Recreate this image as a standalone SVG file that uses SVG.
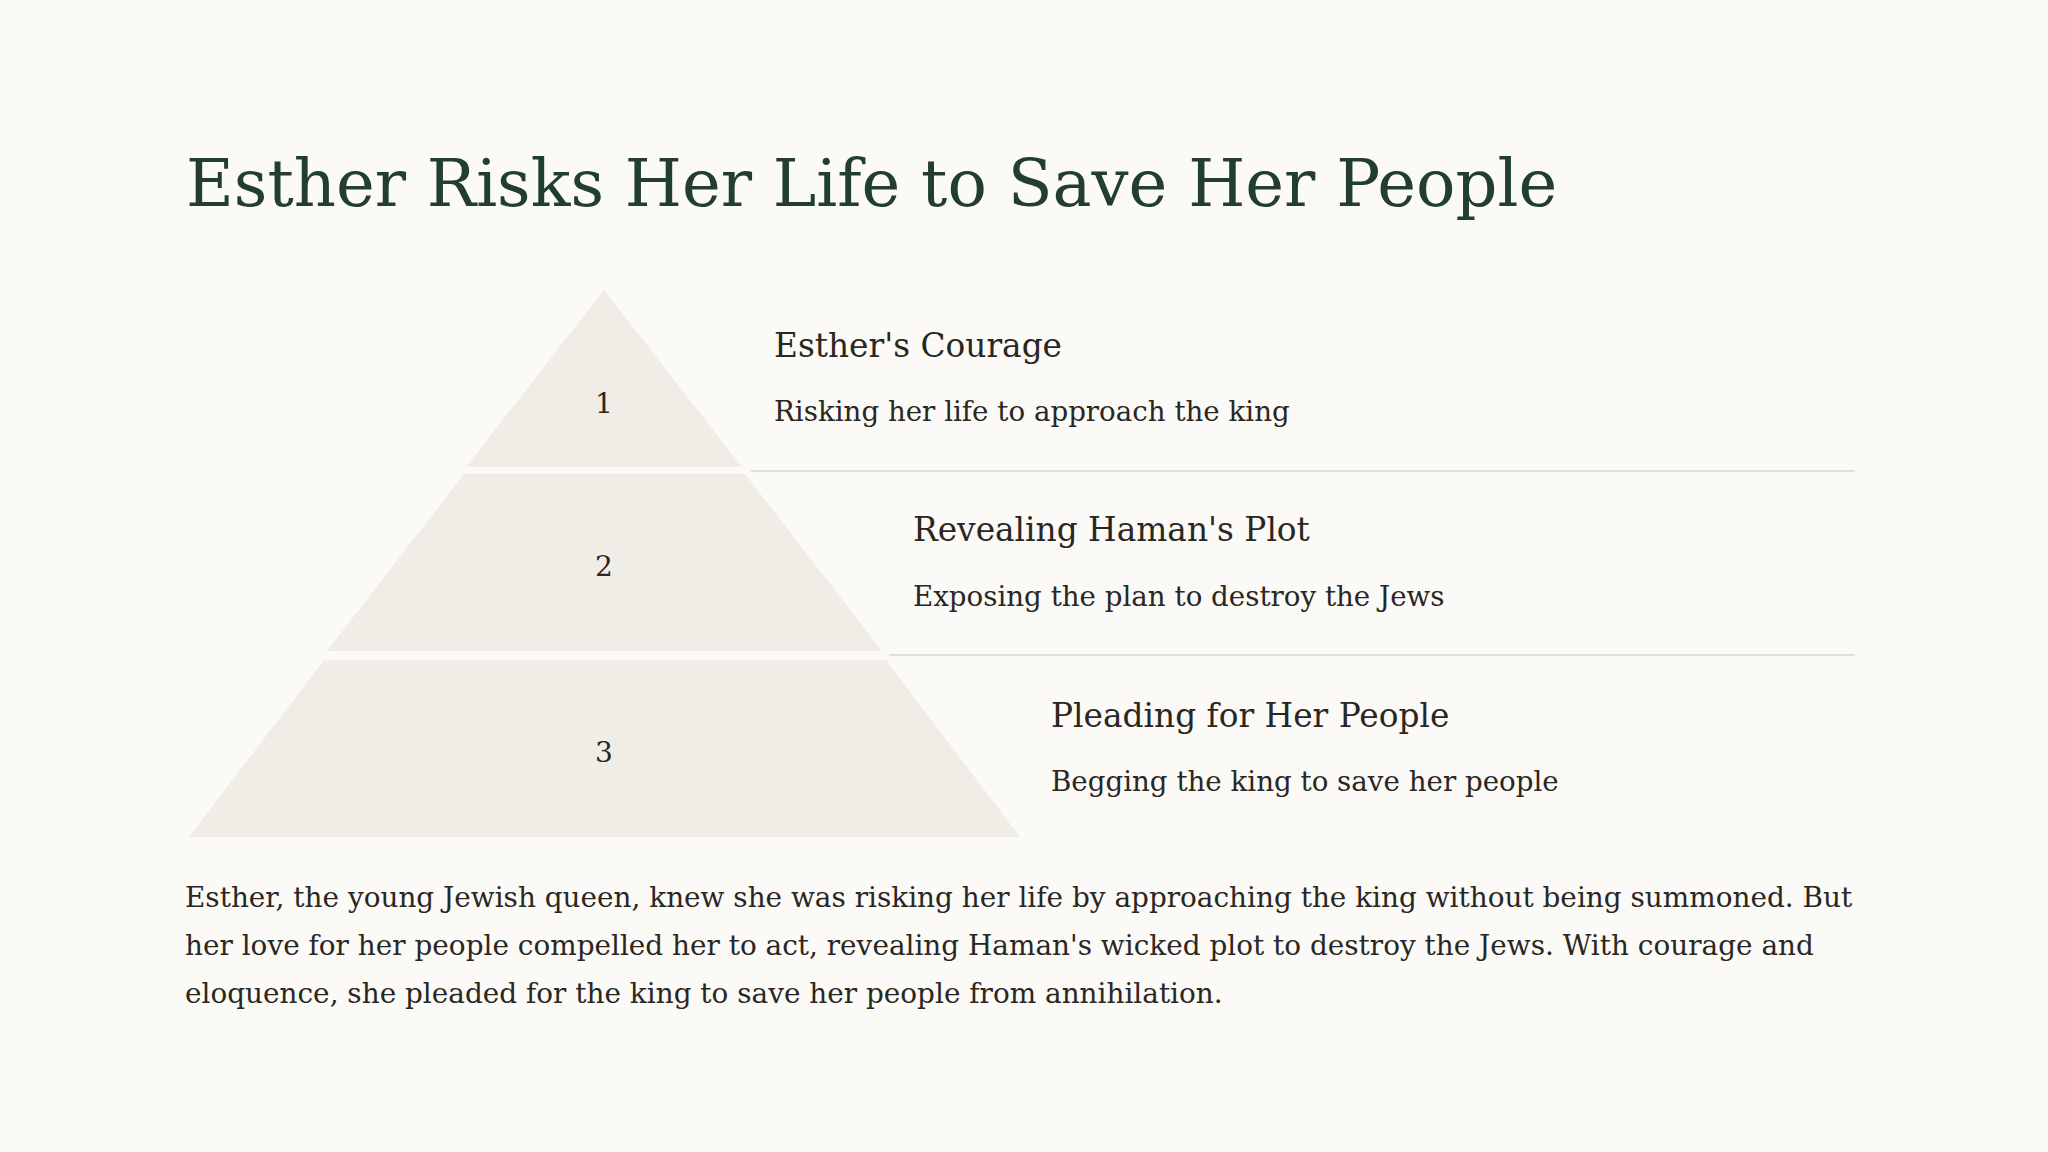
<svg xmlns="http://www.w3.org/2000/svg" width="2048" height="1152" viewBox="0 0 2048 1152">
  <style>
    .bg { fill: #FBFAF7; }
    .title { font-family: "DejaVu Serif", "Liberation Serif", serif; font-size: 65.5px; fill: #223D31; }
    .tier { fill: #EFEDE6; }
    .num { font-family: "DejaVu Serif", "Liberation Serif", serif; font-size: 28px; fill: #2A2723; text-anchor: middle; }
    .head { font-family: "DejaVu Serif", "Liberation Serif", serif; font-size: 32.8px; fill: #2A2723; }
    .sub { font-family: "DejaVu Serif", "Liberation Serif", serif; font-size: 27.7px; fill: #2A2723; }
    .para { font-family: "DejaVu Serif", "Liberation Serif", serif; font-size: 27.9px; fill: #2A2723; }
    .sep { stroke: #D6D4CE; stroke-width: 1.5; fill: none; }
  </style>
  <rect class="bg" x="0" y="0" width="2048" height="1152"/>
  <text class="title" x="186" y="206">Esther Risks Her Life to Save Her People</text>

  <g id="tier1">
    <polygon class="tier" points="604,290 742,467 466,467"/>
    <text class="num" x="604" y="413">1</text>
    <text class="head" x="774" y="357">Esther's Courage</text>
    <text class="sub" x="774" y="421">Risking her life to approach the king</text>
  </g>
  <g id="tier2">
    <polygon class="tier" points="464,474 745,474 882,651 327,651"/>
    <text class="num" x="604" y="576">2</text>
    <text class="head" x="913" y="541">Revealing Haman's Plot</text>
    <text class="sub" x="913" y="606">Exposing the plan to destroy the Jews</text>
  </g>
  <g id="tier3">
    <polygon class="tier" points="324,660 886,660 1020,837 189,837"/>
    <text class="num" x="604" y="762">3</text>
    <text class="head" x="1051" y="727">Pleading for Her People</text>
    <text class="sub" x="1051" y="791">Begging the king to save her people</text>
  </g>

  <g id="connectors">
    <line class="sep" x1="751" y1="471" x2="1855" y2="471"/>
    <line class="sep" x1="889" y1="655" x2="1855" y2="655"/>
  </g>

  <g id="paragraph">
    <text class="para" x="185" y="907">Esther, the young Jewish queen, knew she was risking her life by approaching the king without being summoned. But</text>
    <text class="para" x="185" y="955">her love for her people compelled her to act, revealing Haman's wicked plot to destroy the Jews. With courage and</text>
    <text class="para" x="185" y="1003">eloquence, she pleaded for the king to save her people from annihilation.</text>
  </g>
</svg>
